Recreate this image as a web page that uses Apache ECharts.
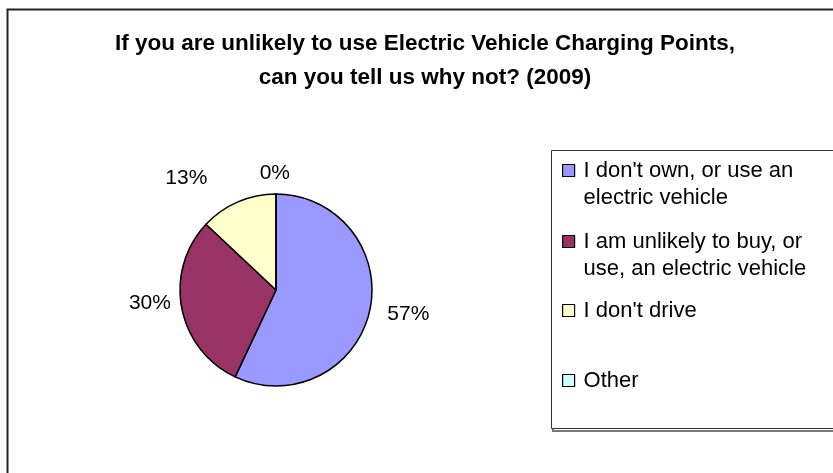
<!DOCTYPE html>
<html>
<head>
<meta charset="utf-8">
<script src="https://cdn.jsdelivr.net/npm/echarts@6/dist/echarts.min.js"></script>
<style>
  html, body { margin: 0; padding: 0; background: #fff; }
  #chart { width: 833px; height: 473px; }
</style>
</head>
<body>
<div id="chart"></div>
<script>
// Survey answers: reasons for not using charging points (2009), in percent
var categories = [
  "I don't own, or use an electric vehicle",
  "I am unlikely to buy, or use, an electric vehicle",
  "I don't drive",
  "Other"
];
var shares = [57, 30, 13, 0];
var sliceColors = ['#9999FF', '#993366', '#FFFFCC', '#CCFFFF'];
// Legend wording, broken onto the lines shown in the key box
var legendLines = [
  ["I don't own, or use an", "electric vehicle"],
  ["I am unlikely to buy, or", "use, an electric vehicle"],
  ["I don't drive"],
  ["Other"]
];
var chartTitle = 'If you are unlikely to use Electric Vehicle Charging Points,\ncan you tell us why not? (2009)';

var FONT = '"Liberation Sans", Arial, sans-serif';
var LEGEND_LINE = 27;
// top of each key entry; two-line entries carry a blank row above them
var legendTops = [170 - 13 - LEGEND_LINE, 241 - 13 - LEGEND_LINE, 310 - 13, 380 - 13];
// small offsets for the percentage labels around the pie
var labelNudge = [[-1, 0], [8, -7], [-20, -11], [19, -7]];

var chart = echarts.init(document.getElementById('chart'), null, { renderer: 'canvas' });

var legends = categories.map(function (name, i) {
  var lines = legendLines[i];
  return {
    data: [name],
    left: 562,
    top: legendTops[i],
    orient: 'vertical',
    icon: 'rect',
    itemWidth: 12,
    itemHeight: 12,
    itemGap: 0,
    padding: 0,
    selectedMode: false,
    itemStyle: { borderColor: '#000', borderWidth: 1.2 },
    formatter: function () {
      // a blank row above keeps the key square level with the first text line
      return lines.length > 1 ? '\n' + lines.join('\n') : lines[0];
    },
    textStyle: { fontFamily: FONT, fontSize: 22, color: '#000', lineHeight: LEGEND_LINE, padding: [0, 0, 0, 4] }
  };
});

chart.setOption({
  backgroundColor: '#fff',
  animation: false,
  color: sliceColors,
  title: {
    text: chartTitle,
    left: 420,
    textAlign: 'center',
    top: 22,
    textStyle: { fontFamily: FONT, fontSize: 22.5, fontWeight: 'bold', color: '#000', lineHeight: 34 }
  },
  graphic: [
    { type: 'rect', z: -1, shape: { x: 7.5, y: 9.5, width: 900, height: 600 }, style: { fill: null, stroke: '#222', lineWidth: 2 } },
    { type: 'rect', z: -1, shape: { x: 553, y: 152, width: 300, height: 279 }, style: { fill: null, stroke: '#777', lineWidth: 2 } },
    { type: 'rect', z: -1, shape: { x: 551.5, y: 150.5, width: 300, height: 278 }, style: { fill: '#fff', stroke: '#333', lineWidth: 1 } }
  ],
  legend: legends,
  series: [{
    type: 'pie',
    center: [276, 290],
    radius: 96,
    startAngle: 90,
    clockwise: true,
    avoidLabelOverlap: false,
    data: categories.map(function (c, i) { return { name: c, value: shares[i] }; }),
    itemStyle: { borderColor: '#000', borderWidth: 1.5 },
    label: {
      show: true,
      position: 'outside',
      formatter: '{d}%',
      fontFamily: FONT,
      fontSize: 21,
      color: '#000'
    },
    labelLine: { show: false, length: 14, length2: 0 },
    labelLayout: function (params) {
      var n = labelNudge[params.dataIndex];
      return { dx: n[0], dy: n[1] };
    }
  }]
});
</script>
</body>
</html>
